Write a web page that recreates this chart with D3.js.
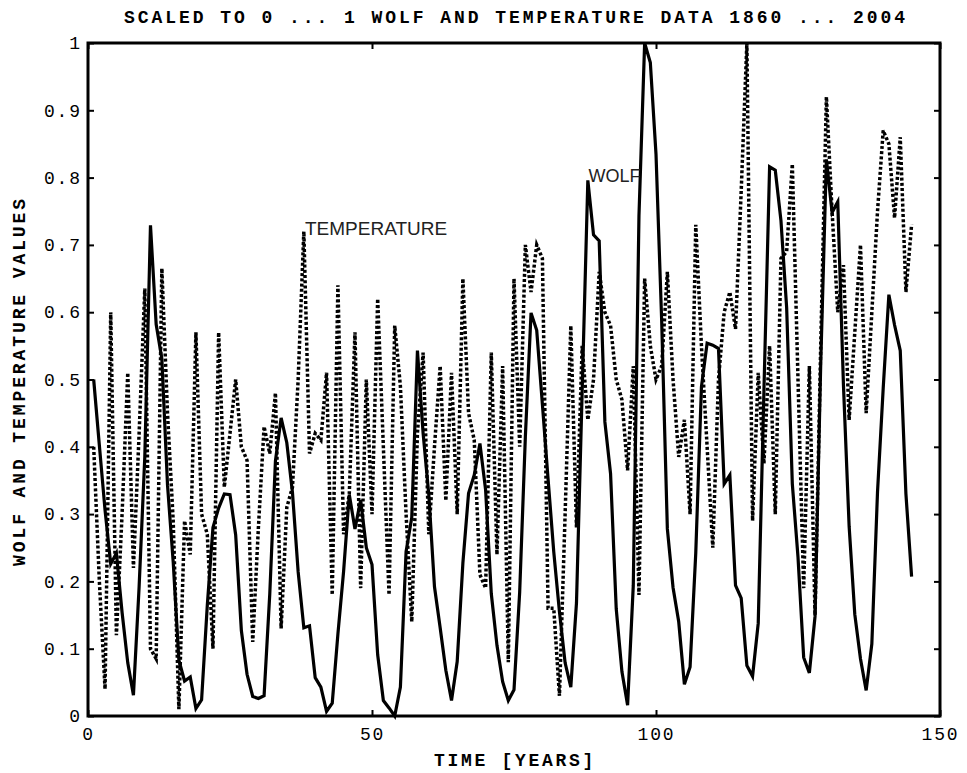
<!DOCTYPE html>
<html>
<head>
<meta charset="utf-8">
<script src="https://cdn.jsdelivr.net/npm/d3@7"></script>
<style>
html,body{margin:0;padding:0;background:#fff;}
svg{display:block;}
</style>
</head>
<body>
<svg id="chart" width="967" height="773"></svg>
<script>
// Scaled Wolf (sunspot) numbers, years 1860..2004 (index 1..145)
const wolf = [0.5,0.402,0.306,0.226,0.242,0.154,0.079,0.031,0.192,0.385,
0.729,0.582,0.531,0.343,0.229,0.083,0.052,0.058,0.011,0.024,
0.164,0.280,0.309,0.330,0.329,0.269,0.127,0.062,0.029,0.026,
0.030,0.181,0.379,0.443,0.406,0.332,0.214,0.131,0.134,0.057,
0.043,0.007,0.019,0.122,0.215,0.329,0.278,0.321,0.250,0.225,
0.091,0.023,0.012,0.0,0.043,0.244,0.295,0.543,0.420,0.329,
0.192,0.131,0.068,0.023,0.081,0.227,0.331,0.358,0.405,0.336,
0.182,0.105,0.051,0.023,0.039,0.184,0.415,0.599,0.573,0.463,
0.352,0.244,0.155,0.079,0.043,0.168,0.483,0.796,0.715,0.706,
0.437,0.360,0.159,0.066,0.016,0.194,0.743,1.0,0.971,0.835,
0.587,0.278,0.191,0.140,0.047,0.073,0.242,0.489,0.554,0.551,
0.546,0.345,0.358,0.194,0.175,0.075,0.059,0.138,0.483,0.816,
0.811,0.736,0.607,0.345,0.236,0.087,0.064,0.148,0.523,0.827,
0.748,0.764,0.492,0.282,0.151,0.085,0.038,0.107,0.333,0.487,
0.626,0.581,0.543,0.330,0.207];

// Scaled temperature values, same years
const temperature = [0.40,0.20,0.04,0.60,0.12,0.30,0.51,0.22,0.42,0.635,
0.10,0.085,0.665,0.45,0.29,0.01,0.29,0.24,0.57,0.30,
0.27,0.10,0.57,0.34,0.42,0.50,0.40,0.38,0.11,0.28,
0.43,0.39,0.48,0.13,0.31,0.34,0.50,0.72,0.39,0.42,
0.41,0.51,0.18,0.64,0.27,0.33,0.57,0.19,0.50,0.30,
0.62,0.40,0.18,0.58,0.49,0.30,0.14,0.42,0.54,0.27,
0.40,0.52,0.32,0.51,0.30,0.65,0.45,0.41,0.21,0.19,
0.54,0.24,0.52,0.08,0.65,0.40,0.70,0.63,0.70,0.68,
0.16,0.16,0.03,0.30,0.58,0.28,0.55,0.44,0.50,0.66,
0.60,0.58,0.50,0.47,0.365,0.52,0.18,0.65,0.55,0.50,
0.52,0.66,0.50,0.385,0.44,0.30,0.73,0.55,0.40,0.25,
0.50,0.60,0.63,0.575,0.78,1.0,0.29,0.51,0.375,0.55,
0.30,0.68,0.69,0.82,0.50,0.19,0.52,0.15,0.55,0.92,
0.75,0.60,0.67,0.44,0.57,0.70,0.45,0.60,0.75,0.87,
0.85,0.74,0.86,0.63,0.73];

const xTicks = [0, 50, 100, 150];
const yTicks = [0, 0.1, 0.2, 0.3, 0.4, 0.5, 0.6, 0.7, 0.8, 0.9, 1];
const yTickLabels = ["0","0.1","0.2","0.3","0.4","0.5","0.6","0.7","0.8","0.9","1"];
const title = "SCALED TO 0 ... 1 WOLF AND TEMPERATURE DATA 1860 ... 2004";
const xLabel = "TIME [YEARS]";
const yLabel = "WOLF AND TEMPERATURE VALUES";

const svg = d3.select("#chart");
const L = 88, R = 940, T = 43, B = 716;
const x = d3.scaleLinear().domain([0, 150]).range([L, R]);
const y = d3.scaleLinear().domain([0, 1]).range([B, T]);
const mono = "'Liberation Mono','DejaVu Sans Mono',monospace";
const sans = "'Liberation Sans',Arial,sans-serif";

const line = d3.line().x((d, i) => x(i + 1)).y(d => y(d));

svg.append("path").datum(temperature)
  .attr("d", line).attr("fill", "none").attr("stroke", "#000")
  .attr("stroke-width", 3.5).attr("stroke-dasharray", "3,2.2");

svg.append("path").datum(wolf)
  .attr("d", line).attr("fill", "none").attr("stroke", "#000")
  .attr("stroke-width", 3.2).attr("stroke-linejoin", "miter");

// axes with inward ticks on all sides
const tickLen = 6;
const gBottom = svg.append("g").attr("transform", `translate(0,${B})`)
  .call(d3.axisBottom(x).tickValues(xTicks).tickSizeInner(-tickLen).tickSizeOuter(0).tickPadding(11).tickFormat(d3.format("d")));
const gTop = svg.append("g").attr("transform", `translate(0,${T})`)
  .call(d3.axisTop(x).tickValues(xTicks).tickSizeInner(-tickLen).tickSizeOuter(0).tickFormat(""));
const gLeft = svg.append("g").attr("transform", `translate(${L},0)`)
  .call(d3.axisLeft(y).tickValues(yTicks).tickSizeInner(-tickLen).tickSizeOuter(0).tickPadding(8)
    .tickFormat((d, i) => yTickLabels[i]));
const gRight = svg.append("g").attr("transform", `translate(${R},0)`)
  .call(d3.axisRight(y).tickValues(yTicks).tickSizeInner(-tickLen).tickSizeOuter(0).tickFormat(""));

[gBottom, gTop, gLeft, gRight].forEach(g => {
  g.select(".domain").remove();
  g.selectAll(".tick line").attr("stroke", "#000").attr("stroke-width", 2);
  g.selectAll("text").attr("font-family", mono).attr("font-size", 18)
    .attr("letter-spacing", 1.8).attr("fill", "#000");
});
// compensate trailing letter-spacing on right-aligned labels
gLeft.selectAll("text").attr("dx", 1.8);

svg.append("rect").attr("x", L).attr("y", T).attr("width", R - L).attr("height", B - T)
  .attr("fill", "none").attr("stroke", "#000").attr("stroke-width", 3);

svg.append("text").attr("x", 516).attr("y", 23).attr("text-anchor", "middle")
  .attr("font-family", mono).attr("font-weight", "bold").attr("font-size", 18)
  .attr("letter-spacing", 2.95).text(title);
svg.append("text").attr("x", 515).attr("y", 766).attr("text-anchor", "middle")
  .attr("font-family", mono).attr("font-weight", "bold").attr("font-size", 18)
  .attr("letter-spacing", 2.7).text(xLabel);
svg.append("text").attr("transform", "translate(25,381) rotate(-90)").attr("text-anchor", "middle")
  .attr("font-family", mono).attr("font-weight", "bold").attr("font-size", 18)
  .attr("letter-spacing", 2.9).text(yLabel);

svg.append("text").attr("x", x(38.2)).attr("y", y(0.715)).attr("font-family", sans)
  .attr("font-size", 19).attr("fill", "#222").text("TEMPERATURE");
svg.append("text").attr("x", x(88.1)).attr("y", y(0.7935)).attr("font-family", sans)
  .attr("font-size", 18).attr("fill", "#222").text("WOLF");
</script>
</body>
</html>
